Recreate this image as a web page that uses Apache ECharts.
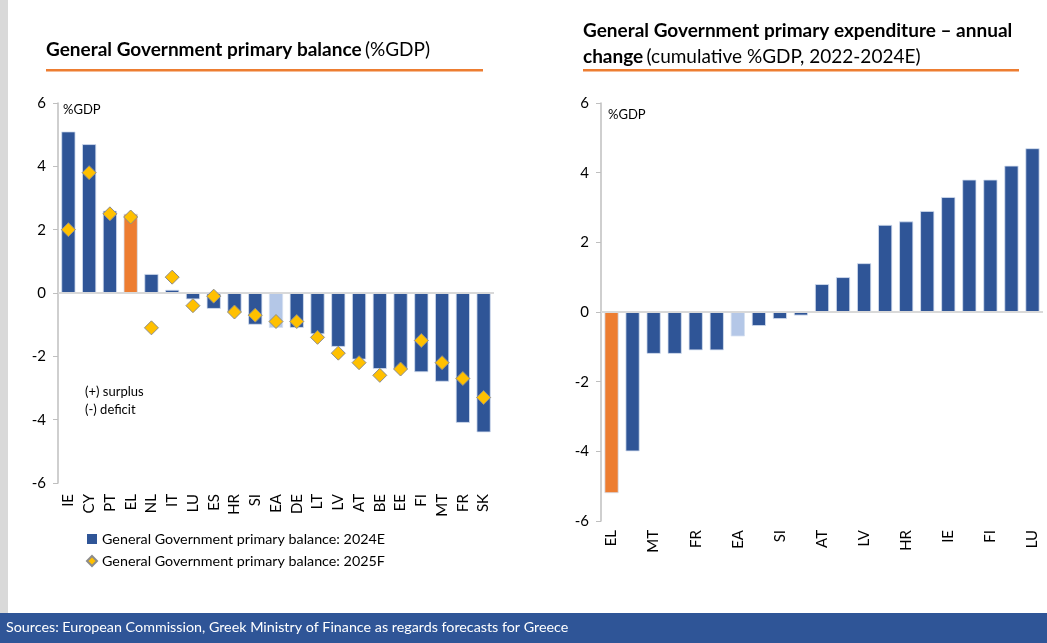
<!DOCTYPE html>
<html>
<head>
<meta charset="utf-8">
<script src="https://cdn.jsdelivr.net/npm/echarts@6/dist/echarts.min.js"></script>
<style>
html,body{margin:0;padding:0;background:#fff;}
#c{width:1047px;height:643px;}
</style>
</head>
<body>
<div id="c"></div>
<script>
// ---- Left chart data ----
const balanceCountries = ['IE','CY','PT','EL','NL','IT','LU','ES','HR','SI','EA','DE','LT','LV','AT','BE','EE','FI','MT','FR','SK'];
const balance2024E = [5.1,4.7,2.6,2.5,0.6,0.1,-0.2,-0.5,-0.6,-1.0,-1.1,-1.1,-1.3,-1.7,-2.1,-2.4,-2.4,-2.5,-2.8,-4.1,-4.4];
const balance2025F = [2.0,3.8,2.5,2.4,-1.1,0.5,-0.4,-0.1,-0.6,-0.7,-0.9,-0.9,-1.4,-1.9,-2.2,-2.6,-2.4,-1.5,-2.2,-2.7,-3.3];

// ---- Right chart data ----
const expCountries = ['EL','CY','MT','PT','FR','ES','EA','IT','SI','BE','AT','NL','LV','DE','HR','LT','IE','SK','FI','EE','LU'];
const expChange = [-5.2,-4.0,-1.2,-1.2,-1.1,-1.1,-0.7,-0.4,-0.2,-0.1,0.8,1.0,1.4,2.5,2.6,2.9,3.3,3.8,3.8,4.2,4.7];

const yTicks = [-6,-4,-2,0,2,4,6];

const FONT = 'Lato, "Open Sans", sans-serif';
const BLUE = '#2f5597', ORANGE = '#ed7d31', LIGHT = '#b4c7e7';
function colorFor(c){ return c === 'EL' ? ORANGE : (c === 'EA' ? LIGHT : BLUE); }

const chart = echarts.init(document.getElementById('c'));

const yAxisBase = {
  type:'value', min:yTicks[0], max:yTicks[yTicks.length-1], interval:2,
  axisLine:{show:true, lineStyle:{color:'#bfbfbf', width:1.5}},
  axisTick:{show:true, length:5, lineStyle:{color:'#bfbfbf'}},
  axisLabel:{fontFamily:FONT, fontSize:15, color:'#000', margin:12},
  splitLine:{show:false}
};
const zeroLine = {silent:true, symbol:'none', label:{show:false},
  lineStyle:{color:'#d9d9d9', width:2, type:'solid'}, data:[{yAxis:0}]};
const barBorder = {borderColor:'#d6dff0', borderWidth:0.8};

chart.setOption({
  animation:false,
  backgroundColor:'#fff',
  grid:[
    {left:58, right:553, top:103, bottom:160},
    {left:601, right:4, top:103, bottom:122}
  ],
  xAxis:[
    {type:'category', gridIndex:0, data:balanceCountries,
     axisLine:{show:false, onZero:false}, axisTick:{show:false},
     axisLabel:{rotate:90, interval:0, fontFamily:FONT, fontSize:15, color:'#000', margin:11}},
    {type:'category', gridIndex:1, data:expCountries,
     axisLine:{show:false, onZero:false}, axisTick:{show:false},
     axisLabel:{rotate:90, interval:1, fontFamily:FONT, fontSize:15, color:'#000', margin:9}}
  ],
  yAxis:[
    Object.assign({gridIndex:0}, yAxisBase),
    Object.assign({gridIndex:1}, yAxisBase)
  ],
  legend:{
    left:81, top:527, orient:'vertical', itemGap:8, itemWidth:10, itemHeight:10,
    textStyle:{fontFamily:FONT, fontSize:14.3, color:'#000'},
    data:[
      {name:'General Government primary balance: 2024E', icon:'rect'},
      {name:'General Government primary balance: 2025F', icon:'diamond'}
    ]
  },
  series:[
    {name:'General Government primary balance: 2024E', type:'bar', xAxisIndex:0, yAxisIndex:0,
     barWidth:'68%', itemStyle:{color:BLUE},
     data:balance2024E.map((v,i)=>({value:v, itemStyle:Object.assign({color:colorFor(balanceCountries[i])}, barBorder)})),
     markLine:zeroLine, z:2},
    {name:'General Government primary balance: 2025F', type:'scatter', xAxisIndex:0, yAxisIndex:0,
     symbol:'diamond', symbolSize:14,
     itemStyle:{color:'#ffc000', borderColor:'#8c8c8c', borderWidth:1, opacity:1},
     data:balance2025F, z:5},
    {name:'expenditure', type:'bar', xAxisIndex:1, yAxisIndex:1, barWidth:'67%',
     data:expChange.map((v,i)=>({value:v, itemStyle:Object.assign({color:colorFor(expCountries[i])}, barBorder)})),
     markLine:zeroLine, z:2}
  ],
  graphic:[
    {type:'rect', shape:{x:0, y:0, width:8, height:613}, style:{fill:'#d9d9d9'}, silent:true},
    {type:'rect', shape:{x:0, y:613, width:1047, height:30}, style:{fill:'#2f5597'}, silent:true},
    {type:'text', left:6, top:620, silent:true,
     style:{text:'Sources: European Commission, Greek Ministry of Finance as regards forecasts for Greece',
            fontFamily:FONT, fontSize:14.3, fill:'#fff'}},
    // left title
    {type:'text', left:46, top:40, silent:true,
     style:{text:'{b|General Government primary balance} {n|(%GDP)}',
            rich:{b:{fontFamily:FONT, fontSize:19, fontWeight:'bold', fill:'#000'},
                  n:{fontFamily:FONT, fontSize:19, fill:'#000'}}}},
    {type:'rect', shape:{x:46, y:69, width:437, height:2.5}, style:{fill:ORANGE}, silent:true},
    // right title
    {type:'text', left:583, top:18, silent:true,
     style:{text:'{b|General Government primary expenditure – annual}\n{b|change} {n|(cumulative %GDP, 2022-2024E)}',
            lineHeight:26,
            rich:{b:{fontFamily:FONT, fontSize:19, fontWeight:'bold', fill:'#000', lineHeight:26},
                  n:{fontFamily:FONT, fontSize:19, fill:'#000', lineHeight:26}}}},
    {type:'rect', shape:{x:583, y:69, width:436, height:2.5}, style:{fill:ORANGE}, silent:true},
    // %GDP labels
    {type:'text', left:63, top:103, silent:true, style:{text:'%GDP', fontFamily:FONT, fontSize:13, fill:'#000'}},
    {type:'text', left:608, top:108, silent:true, style:{text:'%GDP', fontFamily:FONT, fontSize:13, fill:'#000'}},
    // surplus / deficit note
    {type:'text', left:85, top:383, silent:true,
     style:{text:'(+) surplus\n(-) deficit', fontFamily:FONT, fontSize:13, lineHeight:18, fill:'#000'}}
  ]
});
</script>
</body>
</html>
